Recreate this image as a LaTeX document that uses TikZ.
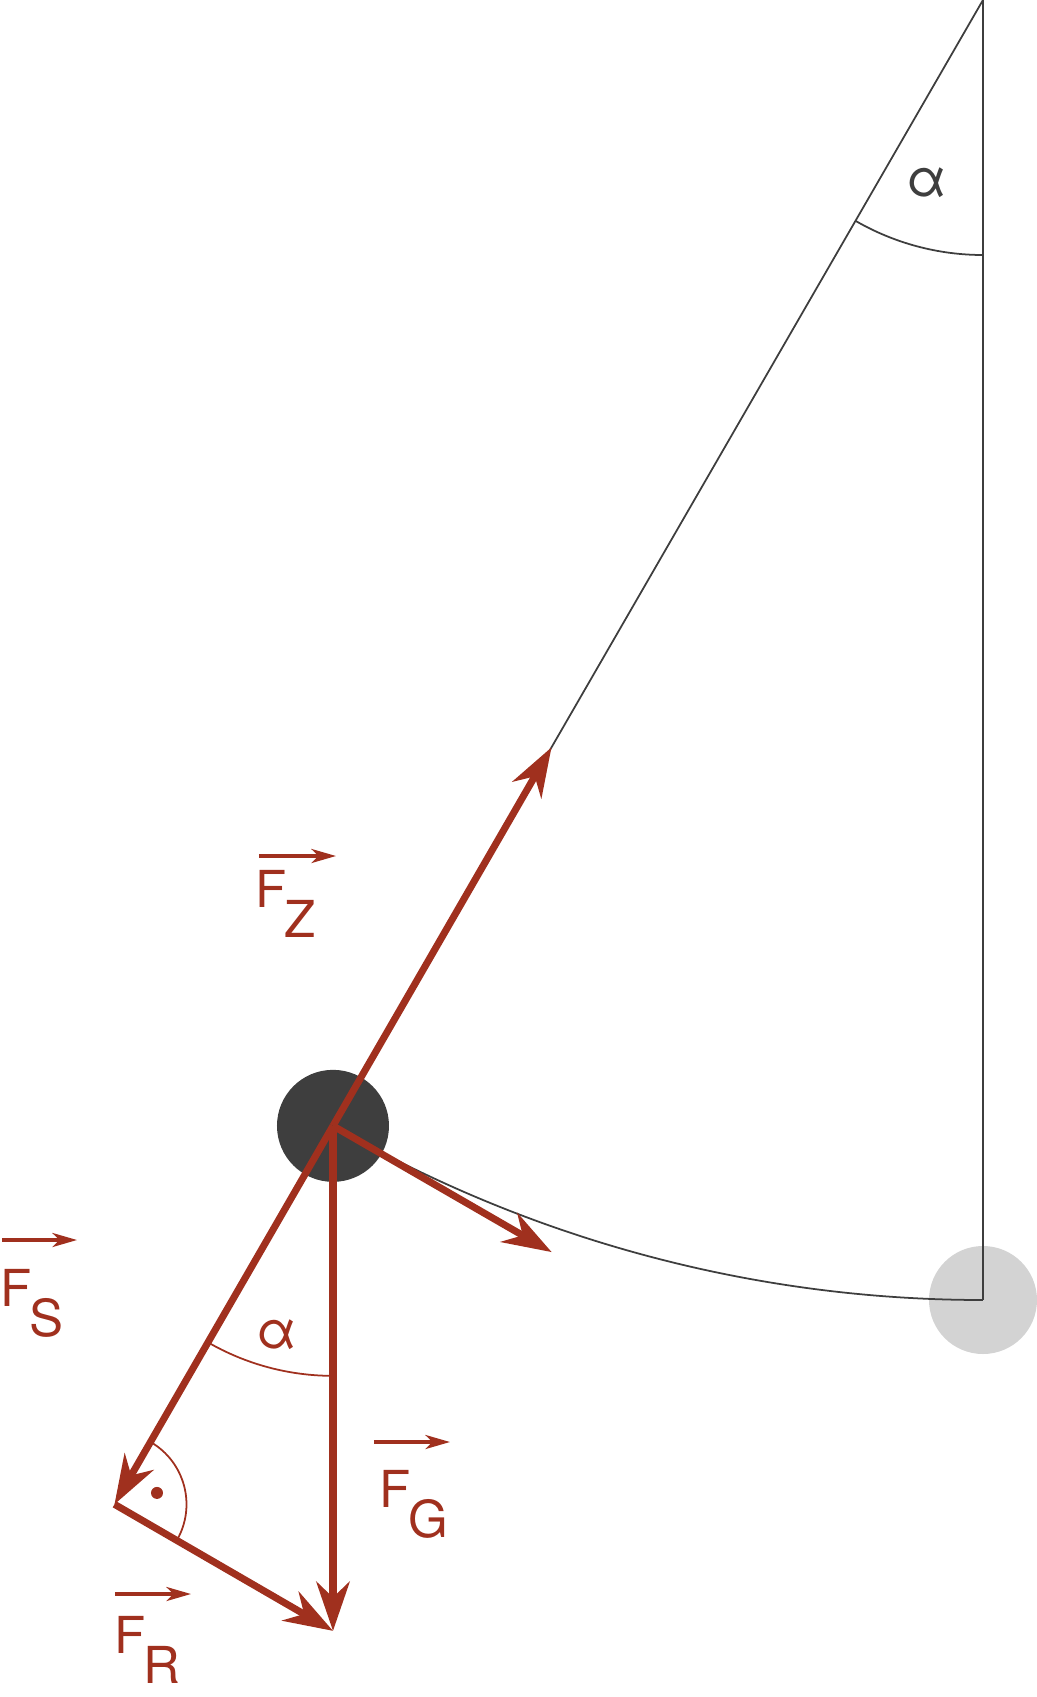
\documentclass[tikz,border=0pt]{standalone}
\usepackage{fontspec}
\setmainfont{TeX Gyre Heros}
\definecolor{forcered}{RGB}{160,48,30}
\definecolor{bobgray}{RGB}{62,62,62}
\definecolor{restgray}{RGB}{211,211,211}
\usetikzlibrary{arrows.meta,calc}

\begin{document}
\begin{tikzpicture}[x=0.02cm, y=0.02cm,
    string/.style={draw=bobgray, line width=1pt},
    force/.style={draw=forcered, line width=4pt, -{Stealth[length=28pt, width=19pt, inset=9pt]}},
    vecarrow/.style={draw=forcered, line width=2pt, -{Stealth[length=14pt, width=8pt, inset=4pt]}},
    flabel/.style={text=forcered, font=\fontsize{29}{33}\selectfont, inner sep=0pt, anchor=base west},
    alabel/.style={font=\fontsize{30}{34}\selectfont, inner sep=0pt}]
    \useasboundingbox (-983,-1697) rectangle (54,0);

    % Pendulum
    \coordinate (pivot) at (0,0);
    \coordinate (rest) at (270:1300);
    \coordinate (bob) at (240:1300);
    \fill[restgray] (rest) circle[radius=54];
    \draw[string] (pivot) -- (rest);
    \draw[string] (pivot) -- (bob);
    \draw[string] (bob) arc[start angle=240, end angle=270, radius=1300];
    \draw[string] ($(pivot)+(270:255)$) arc[start angle=270, end angle=240, radius=255];
    \node[alabel, text=bobgray] (atop) at ($(pivot)+(253:191)$) {α};
    \fill[bobgray] (bob) circle[radius=56];

    % Forces
    \coordinate (fz) at ($(bob)+(60:437)$);
    \coordinate (fs) at ($(bob)+(240:437)$);
    \coordinate (fr) at ($(bob)+(-30:252.5)$);
    \coordinate (fg) at ($(bob)+(270:505)$);
    \draw[force] (bob) -- (fz);
    \draw[force] (bob) -- (fs);
    \draw[force] (bob) -- (fr);
    \draw[force] (bob) -- (fg);
    \draw[force] (fs) -- (fg);

    % Angles
    \draw[forcered, line width=1pt] ($(bob)+(270:250)$) arc[start angle=270, end angle=240, radius=250];
    \node[alabel, text=forcered] (abob) at ($(bob)+(255:216)$) {α};
    \draw[forcered, line width=1pt] ($(fs)+(60:72)$) arc[start angle=60, end angle=-30, radius=72];
    \fill[forcered] ($(fs)+(15:44)$) circle[radius=6];

    % Labels
    \node[flabel] (lz) at (-728,-907) {F\kern-1pt\raisebox{-0.6em}{Z}};
    \draw[vecarrow] ([shift={(4,51)}]lz.base west) -- ++(77,0);
    \node[flabel] (ls) at (-983,-1306) {F\kern-1pt\raisebox{-0.6em}{S}};
    \draw[vecarrow] ([shift={(2,66)}]ls.base west) -- ++(75,0);
    \node[flabel] (lg) at (-604,-1507) {F\kern-1pt\raisebox{-0.6em}{G}};
    \draw[vecarrow] ([shift={(-5,65)}]lg.base west) -- ++(76,0);
    \node[flabel] (lr) at (-869,-1653) {F\kern-1pt\raisebox{-0.6em}{R}};
    \draw[vecarrow] ([shift={(1,59)}]lr.base west) -- ++(76,0);
\end{tikzpicture}
\end{document}
